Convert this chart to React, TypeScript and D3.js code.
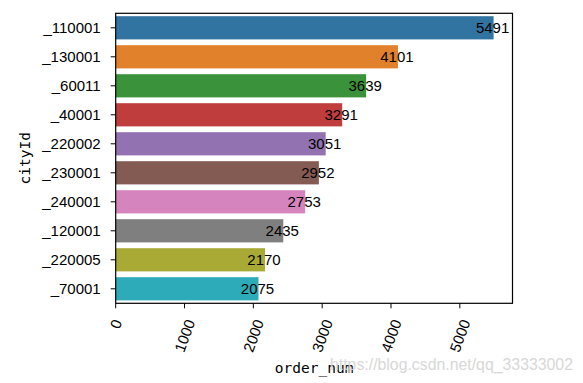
import React from "react";
import * as d3 from "d3";

const categories = ["_110001", "_130001", "_60011", "_40001", "_220002", "_230001", "_240001", "_120001", "_220005", "_70001"];
const values = [5491, 4101, 3639, 3291, 3051, 2952, 2753, 2435, 2170, 2075];
const colors = ["#3274a1", "#e1812c", "#3a923a", "#c03d3e", "#9372b2", "#845b53", "#d684bd", "#7f7f7f", "#a9aa35", "#2eabb8"];
const xTicks = [0, 1000, 2000, 3000, 4000, 5000];
const xLabel = "order_num";
const yLabel = "cityId";
const watermark = "https://blog.csdn.net/qq_33333002";

const W = 583, H = 383;
const L = 115.7, R = 512.5, T = 13.3, B = 303.3;

export default function App() {
  const maxV = d3.max(values) as number;
  const x = d3.scaleLinear().domain([0, maxV * 1.05]).range([L, R]);
  const y = d3.scaleBand<string>().domain(categories).range([T, B]).paddingInner(0.2).paddingOuter(0.1);
  const band = d3.scaleBand<string>().domain(categories).range([T, B]);
  const fs = 15;
  const tickFont = "'Liberation Sans', Arial, sans-serif";
  const monoFont = "'DejaVu Sans Mono', monospace";
  const ang = 70 * Math.PI / 180;
  return (
    <svg width={W} height={H} style={{ position: "absolute", left: 0, top: 0, background: "#fff" }}>
      <rect x={0} y={0} width={W} height={H} fill="#fff" />
      {categories.map((c, i) => (
        <rect key={c} x={x(0)} y={y(c)} width={x(values[i]) - x(0)} height={y.bandwidth()} fill={colors[i]} />
      ))}
      {categories.map((c, i) => (
        <text key={"v" + c} x={x(values[i]) - 1} y={(y(c) as number) + y.bandwidth() / 2} textAnchor="middle" dominantBaseline="central" fontFamily={tickFont} fontSize={fs} fill="#000">
          {values[i]}
        </text>
      ))}
      <rect x={L} y={T} width={R - L} height={B - T} fill="none" stroke="#000" strokeWidth={1.2} />
      {categories.map((c) => {
        const cy = (band(c) as number) + band.bandwidth() / 2;
        return (
          <g key={"yt" + c}>
            <line x1={L - 5} x2={L} y1={cy} y2={cy} stroke="#000" strokeWidth={1} />
            <text x={L - 15} y={cy} textAnchor="end" dominantBaseline="central" fontFamily={tickFont} fontSize={fs} fill="#000">{c}</text>
          </g>
        );
      })}
      {xTicks.map((t) => {
        const tx = x(t);
        const w = String(t).length * 0.556 * fs;
        const h = fs * 0.75;
        const boxH = w * Math.sin(ang) + h * Math.cos(ang);
        const cy = 318 + boxH / 2;
        return (
          <g key={"xt" + t}>
            <line x1={tx} x2={tx} y1={B} y2={B + 5} stroke="#000" strokeWidth={1} />
            <text x={tx} y={cy} transform={`rotate(-70 ${tx} ${cy})`} textAnchor="middle" dominantBaseline="central" fontFamily={tickFont} fontSize={fs} fill="#000">{t}</text>
          </g>
        );
      })}
      <text x={(L + R) / 2} y={368} textAnchor="middle" dominantBaseline="central" fontFamily={monoFont} fontSize={14.5} fill="#000">{xLabel}</text>
      <text x={25} y={(T + B) / 2} transform={`rotate(-90 25 ${(T + B) / 2})`} textAnchor="middle" dominantBaseline="central" fontFamily={monoFont} fontSize={14.5} fill="#000">{yLabel}</text>
      <text x={330} y={370} textLength={243} lengthAdjust="spacingAndGlyphs" fontFamily={tickFont} fontSize={17} fill="#d4d4d4" opacity={0.9}>{watermark}</text>
    </svg>
  );
}
